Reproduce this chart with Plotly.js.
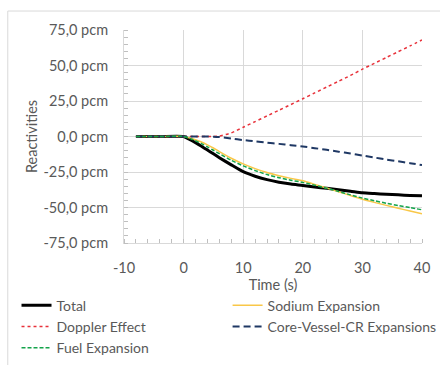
<!DOCTYPE html>
<html><head><meta charset="utf-8">
<script src="https://cdn.plot.ly/plotly-3.0.1.min.js"></script>
<style>html,body{margin:0;padding:0;background:#fff;}#chart{width:440px;height:365px;}</style>
</head><body><div id="chart"></div>
<script>
var time = [-8,-4,0,1,2,3,4,5,6,8,10,12,14,16,18,20,22,24,26,28,30,32,34,36,38,40];
var total = [0,0,0,-2,-4.3,-6.8,-9.5,-12.2,-14.9,-20,-24.8,-28,-30.4,-32.2,-33.5,-34.5,-35.6,-36.5,-37.5,-38.5,-39.6,-40.2,-40.7,-41.1,-41.5,-41.8];
var sodium = [0,0,0,-1,-2.3,-3.9,-5.9,-8.1,-10.6,-15.3,-19.3,-22.6,-25.4,-27.6,-29.5,-31.2,-33.7,-36.3,-38.9,-41.6,-44.2,-46.4,-48.5,-50.5,-52.5,-54.4];
var doppler = [0,0,0,0,0,0,0,0,0.3,2.5,6.5,10.5,14.5,18.5,22.5,26.6,30.7,34.8,38.9,43,47.4,51.5,55.6,59.7,63.8,68];
var coreVessel = [0,0,0,0,0,0,0,-0.1,-0.4,-1.4,-2.5,-3.4,-4.3,-5.2,-6.1,-7,-8.2,-9.4,-10.7,-12,-13.4,-14.8,-16.2,-17.5,-18.8,-20.1];
var fuel = [0,0,0,-1.3,-3,-5,-7.3,-9.7,-12.1,-16.8,-20.7,-24,-26.8,-29,-30.8,-32.3,-34.3,-36.4,-38.7,-41.1,-43.4,-45.2,-47,-48.6,-50.1,-51.6];
var names = ["Total","Sodium Expansion","Doppler Effect","Core-Vessel-CR Expansions","Fuel Expansion"];
var yTicks = [-75,-50,-25,0,25,50,75];
var yTickText = ["-75,0 pcm","-50,0 pcm","-25,0 pcm","0,0 pcm","25,0 pcm","50,0 pcm","75,0 pcm"];
var xTicks = [-10,0,10,20,30,40];
var xTickText = ["-10","0","10","20","30","40"];

var traces = [
  {x: time, y: total, name: names[0], legend: 'legend', mode: 'lines', line: {color: '#000000', width: 3, shape: 'spline', smoothing: 0.6}},
  {x: time, y: sodium, name: names[1], legend: 'legend2', mode: 'lines', line: {color: '#F9C748', width: 1.5, shape: 'spline', smoothing: 0.6}},
  {x: time, y: doppler, name: names[2], legend: 'legend', mode: 'lines', line: {color: '#E8313A', width: 1.5, dash: 'dot', shape: 'spline', smoothing: 0.6}},
  {x: time, y: coreVessel, name: names[3], legend: 'legend2', mode: 'lines', line: {color: '#1F3864', width: 2, dash: '7px,4px', shape: 'spline', smoothing: 0.6}},
  {x: time, y: fuel, name: names[4], legend: 'legend', mode: 'lines', line: {color: '#13A34A', width: 1.5, dash: '4px,2px', shape: 'spline', smoothing: 0.6}}
];

var fnt = {family: 'Lato, "Open Sans", sans-serif', size: 14.5, color: '#595959'};
var lfnt = {family: 'Lato, "Open Sans", sans-serif', size: 14, color: '#595959'};
var layout = {
  width: 440, height: 365,
  margin: {l: 124, r: 18, t: 30, b: 122, autoexpand: false},
  paper_bgcolor: '#ffffff', plot_bgcolor: '#ffffff',
  font: fnt,
  showlegend: true,
  xaxis: {
    range: [-10, 40], tickvals: xTicks, ticktext: xTickText,
    showgrid: true, gridcolor: '#d9d9d9', gridwidth: 1,
    zeroline: false, showline: true, linecolor: '#d9d9d9', linewidth: 1,
    ticks: '', tickfont: fnt, ticklabelstandoff: 12,
    minor: {dtick: 2, tick0: 0, ticks: 'inside', ticklen: 4, tickcolor: '#bfbfbf', showgrid: false},
    title: {text: 'Time (s)', font: fnt, standoff: 2}
  },
  yaxis: {
    range: [-75, 75], tickvals: yTicks, ticktext: yTickText,
    showgrid: true, gridcolor: '#d9d9d9', gridwidth: 1,
    zeroline: false, showline: true, linecolor: '#d9d9d9', linewidth: 1,
    ticks: '', tickfont: fnt, ticklabelstandoff: 12,
    minor: {dtick: 5, tick0: 0, ticks: 'inside', ticklen: 4, tickcolor: '#bfbfbf', showgrid: false},
    title: {text: 'Reactivities', font: fnt, standoff: 2}
  },
  legend: {
    orientation: 'v', xref: 'paper', yref: 'paper',
    x: -0.3607, y: -0.219, xanchor: 'left', yanchor: 'top',
    font: lfnt, bgcolor: 'rgba(0,0,0,0)', traceorder: 'normal'
  },
  legend2: {
    orientation: 'v', xref: 'paper', yref: 'paper',
    x: 0.3476, y: -0.219, xanchor: 'left', yanchor: 'top',
    font: lfnt, bgcolor: 'rgba(0,0,0,0)', traceorder: 'normal'
  },
  shapes: [{type: 'rect', xref: 'paper', yref: 'paper', x0: -0.39, x1: 1.1, y0: -0.6, y1: 1.089,
    line: {color: '#d9d9d9', width: 1}, fillcolor: 'rgba(0,0,0,0)', layer: 'below'}]
};
Plotly.newPlot('chart', traces, layout, {displayModeBar: false, staticPlot: true});
</script></body></html>
